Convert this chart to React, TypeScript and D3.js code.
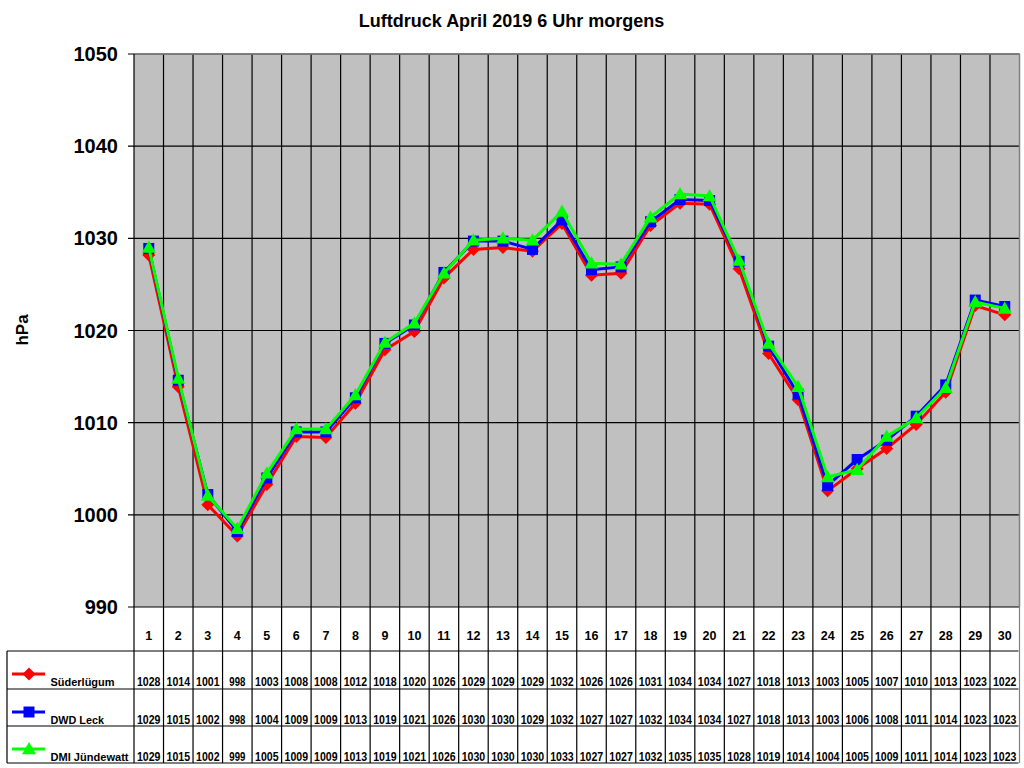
import React from "react";
import * as d3 from "d3";

const days = d3.range(1, 31);
const seriesNames = ["Süderlügum", "DWD Leck", "DMI Jündewatt"];
const seriesColors = ["#FF0000", "#0000FF", "#00FF00"];
const markerShapes = ["diamond", "square", "triangle"];

// plotted (decimal) values
const suederluegum = [1028.2, 1013.9, 1001.1, 997.7, 1003.3, 1008.5, 1008.4, 1012.1, 1017.9, 1019.9, 1025.7, 1028.8, 1029.0, 1028.6, 1031.6, 1026.0, 1026.2, 1031.4, 1033.8, 1033.7, 1026.7, 1017.5, 1012.5, 1002.6, 1005.0, 1007.2, 1009.8, 1013.3, 1022.7, 1021.7];
const dwdLeck = [1028.9, 1014.6, 1002.2, 998.2, 1004.0, 1009.0, 1009.0, 1012.7, 1018.6, 1020.6, 1026.3, 1029.7, 1029.7, 1028.8, 1032.0, 1026.6, 1026.9, 1031.8, 1034.2, 1034.1, 1027.5, 1018.3, 1013.1, 1003.2, 1006.0, 1008.1, 1010.7, 1014.1, 1023.3, 1022.6];
const dmiJuendewatt = [1029.0, 1014.8, 1002.1, 998.5, 1004.5, 1009.3, 1009.3, 1013.0, 1018.7, 1020.8, 1026.2, 1029.8, 1030.0, 1029.8, 1032.9, 1027.3, 1027.2, 1032.3, 1034.8, 1034.6, 1027.6, 1018.6, 1013.9, 1004.1, 1004.9, 1008.5, 1010.5, 1013.8, 1023.1, 1022.4];

// table values (rounded, as printed)
const tableSued = [1028, 1014, 1001, 998, 1003, 1008, 1008, 1012, 1018, 1020, 1026, 1029, 1029, 1029, 1032, 1026, 1026, 1031, 1034, 1034, 1027, 1018, 1013, 1003, 1005, 1007, 1010, 1013, 1023, 1022];
const tableDwd = [1029, 1015, 1002, 998, 1004, 1009, 1009, 1013, 1019, 1021, 1026, 1030, 1030, 1029, 1032, 1027, 1027, 1032, 1034, 1034, 1027, 1018, 1013, 1003, 1006, 1008, 1011, 1014, 1023, 1023];
const tableDmi = [1029, 1015, 1002, 999, 1005, 1009, 1009, 1013, 1019, 1021, 1026, 1030, 1030, 1030, 1033, 1027, 1027, 1032, 1035, 1035, 1028, 1019, 1014, 1004, 1005, 1009, 1011, 1014, 1023, 1023];

const yTicks = [990, 1000, 1010, 1020, 1030, 1040, 1050];
const title = "Luftdruck April 2019 6 Uhr morgens";
const yLabel = "hPa";

const plotSeries = [suederluegum, dwdLeck, dmiJuendewatt];
const tableSeries = [tableSued, tableDwd, tableDmi];

const L = 134, R = 1019.5, T = 54, B = 607;
const rowLines = [607, 651, 689, 726, 763];
const legendLabelWidths = [64, 53.5, 78];
const FONT = "Arial, 'Liberation Sans', sans-serif";

function Marker({ shape, x, y, color }: { shape: string; x: number; y: number; color: string }) {
  if (shape === "diamond") {
    const s = 6.5;
    return <path d={`M${x},${y - s}L${x + s},${y}L${x},${y + s}L${x - s},${y}Z`} fill={color} />;
  }
  if (shape === "square") {
    const s = 5.5;
    return <rect x={x - s} y={y - s} width={2 * s} height={2 * s} fill={color} />;
  }
  const s = 7;
  return <path d={`M${x},${y - s}L${x + s},${y + s * 0.75}L${x - s},${y + s * 0.75}Z`} fill={color} />;
}

export default function App() {
  const x = d3.scaleBand<number>().domain(days).range([L, R]);
  const y = d3.scaleLinear().domain([990, 1050]).range([B, T]);
  const cx = (d: number) => (x(d) as number) + x.bandwidth() / 2;
  const line = d3
    .line<number>()
    .x((_, i) => cx(days[i]))
    .y((v) => y(v));

  const legendRowsY = [rowLines[1], rowLines[2], rowLines[3]];

  return (
    <div style={{ position: "fixed", left: 0, top: 0 }}>
      <svg width={1024} height={768} style={{ display: "block", background: "#fff" }} fontFamily={FONT}>
        <text x={511.5} y={26.5} textAnchor="middle" fontSize={18} fontWeight="bold">
          {title}
        </text>
        {/* plot background */}
        <rect x={L} y={T} width={R - L} height={B - T} fill="#C0C0C0" />
        {/* horizontal grid */}
        {yTicks.map((t) => (
          <g key={t}>
            <line x1={L - 6} x2={R} y1={y(t)} y2={y(t)} stroke="#000" strokeWidth={1.2} />
            <text x={118} y={y(t)} dy="0.35em" textAnchor="end" fontSize={20} fontWeight="bold">
              {t}
            </text>
          </g>
        ))}
        {/* vertical column lines (plot + table) */}
        {days.slice(1).map((d) => (
          <line key={d} x1={x(d)} x2={x(d)} y1={T} y2={rowLines[4]} stroke="#000" strokeWidth={1.2} />
        ))}
        {/* plot border */}
        <line x1={L} x2={R} y1={T} y2={T} stroke="#808080" strokeWidth={1.5} />
        <line x1={R} x2={R} y1={T} y2={B} stroke="#808080" strokeWidth={1.5} />
        <line x1={L} x2={L} y1={T} y2={rowLines[4]} stroke="#000" strokeWidth={1.2} />
        <line x1={R} x2={R} y1={B} y2={rowLines[4]} stroke="#808080" strokeWidth={1.2} />
        {/* table rows */}
        {rowLines.slice(1).map((ry) => (
          <line key={ry} x1={7} x2={R - 1} y1={ry} y2={ry} stroke="#000" strokeWidth={1.2} />
        ))}
        <line x1={7} x2={7} y1={rowLines[1]} y2={rowLines[4]} stroke="#000" strokeWidth={1.2} />
        {/* y label */}
        <text transform="translate(28,330) rotate(-90)" textAnchor="middle" fontSize={17} fontWeight="bold">
          {yLabel}
        </text>
        {/* series */}
        {plotSeries.map((vals, si) => (
          <g key={si}>
            <path d={line(vals) as string} fill="none" stroke={seriesColors[si]} strokeWidth={3} />
            {vals.map((v, i) => (
              <Marker key={i} shape={markerShapes[si]} x={cx(days[i])} y={y(v)} color={seriesColors[si]} />
            ))}
          </g>
        ))}
        {/* day numbers */}
        {days.map((d) => (
          <text key={d} x={cx(d)} y={640} textAnchor="middle" fontSize={12.5} fontWeight="bold">
            {d}
          </text>
        ))}
        {/* table values + legend */}
        {tableSeries.map((vals, si) => (
          <g key={si}>
            <line
              x1={12}
              x2={45}
              y1={legendRowsY[si] + 23}
              y2={legendRowsY[si] + 23}
              stroke={seriesColors[si]}
              strokeWidth={3}
            />
            <Marker shape={markerShapes[si]} x={29} y={legendRowsY[si] + 23} color={seriesColors[si]} />
            <text
              x={50.5}
              y={legendRowsY[si] + 34.5}
              fontSize={11.5}
              fontWeight="bold"
              textLength={legendLabelWidths[si]}
              lengthAdjust="spacingAndGlyphs"
            >
              {seriesNames[si]}
            </text>
            {vals.map((v, i) => (
              <text
                key={i}
                x={cx(days[i])}
                y={legendRowsY[si] + 34.5}
                textAnchor="middle"
                fontSize={13.5}
                fontWeight="bold"
                textLength={String(v).length === 4 ? 23.5 : 16}
                lengthAdjust="spacingAndGlyphs"
              >
                {v}
              </text>
            ))}
          </g>
        ))}
      </svg>
    </div>
  );
}
